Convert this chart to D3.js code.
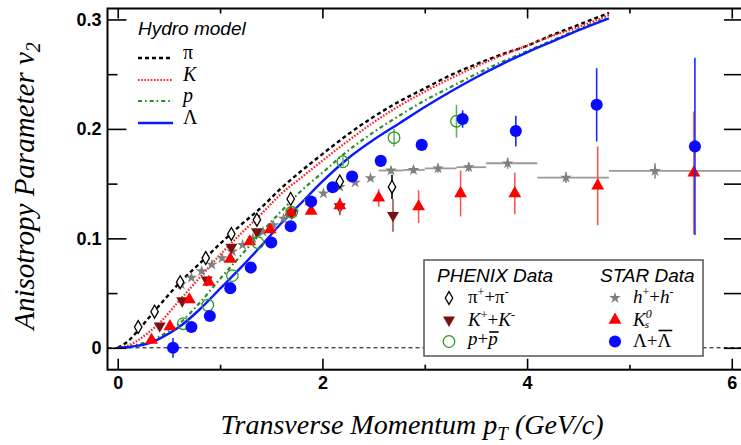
<!DOCTYPE html>
<html><head><meta charset="utf-8">
<script src="https://cdn.jsdelivr.net/npm/d3@7"></script>
<style>body{margin:0;background:#fff}svg{display:block}</style>
</head><body>
<svg id="c" width="741" height="445"></svg>
<script>
// ---------- data ----------
const hydroPt   = [0,0.1,0.2,0.3,0.4,0.6,0.8,1.0,1.2,1.4,1.6,1.8,2.0,2.25,2.5,2.75,3.0,3.25,3.5,3.75,4.0,4.25,4.5,4.8];
const hydroPion = [0,0.006,0.016,0.027,0.038,0.059,0.077,0.095,0.112,0.128,0.146,0.162,0.177,0.195,0.211,0.225,0.237,0.249,0.259,0.268,0.276,0.286,0.295,0.306];
const hydroKaon = [0,0.002,0.007,0.014,0.022,0.043,0.064,0.085,0.104,0.122,0.141,0.156,0.171,0.189,0.206,0.221,0.234,0.246,0.257,0.267,0.276,0.285,0.293,0.304];
const hydroProton=[0,0.001,0.003,0.006,0.010,0.022,0.041,0.063,0.084,0.105,0.125,0.144,0.160,0.180,0.197,0.212,0.226,0.238,0.250,0.261,0.271,0.281,0.291,0.302];
const hydroLambda=[0,0.0005,0.002,0.004,0.008,0.019,0.035,0.054,0.073,0.093,0.114,0.133,0.152,0.173,0.190,0.205,0.220,0.234,0.247,0.259,0.270,0.280,0.290,0.301];

const pionPt  = [0.20,0.36,0.61,0.86,1.11,1.36,1.69,2.17,2.68];
const pionV2  = [0.019,0.033,0.060,0.082,0.104,0.117,0.136,0.152,0.147];
const pionErr = [0,0,0,0,0,0,0,0.003,0.011];

const kaonPt  = [0.41,0.63,0.87,1.11,1.36,1.70,2.17,2.69];
const kaonV2  = [0.020,0.043,0.062,0.092,0.106,0.123,0.129,0.121];
const kaonErr = [0,0,0,0,0,0,0.008,0.015];

const protonPt  = [0.64,0.88,1.12,1.37,1.70,2.20,2.70,3.31];
const protonV2  = [0.022,0.039,0.066,0.096,0.124,0.170,0.192,0.207];
const protonErr = [0,0,0,0,0,0.004,0.008,0.015];

const hPt  = [0.62,0.72,0.82,0.92,1.02,1.12,1.22,1.32,1.42,1.52,1.62,1.72,1.86,2.01,2.17,2.32,2.47,2.67,2.89,3.13,3.43,3.81,4.38,5.25];
const hV2  = [0.058,0.064,0.070,0.076,0.082,0.088,0.094,0.100,0.106,0.112,0.118,0.124,0.134,0.141,0.147,0.151,0.155,0.162,0.1625,0.164,0.165,0.1686,0.1555,0.1616];
const hErr = [0,0,0,0,0,0,0,0,0,0,0,0,0,0,0,0,0,0.003,0.003,0.004,0.004,0.005,0.005,0.007];
const hLo  = [null,null,null,null,null,null,null,null,null,null,null,null,null,null,null,null,null,2.55,2.79,3.0,3.31,3.6,4.1,4.8];
const hHi  = [null,null,null,null,null,null,null,null,null,null,null,null,null,null,null,null,null,2.79,3.0,3.31,3.6,4.1,4.8,6.1];

const k0sPt  = [0.33,0.51,0.70,0.89,1.10,1.29,1.49,1.69,1.89,2.17,2.55,2.94,3.35,3.88,4.69,5.63];
const k0sV2  = [0.007,0.0195,0.044,0.060,0.081,0.097,0.108,0.124,0.125,0.130,0.137,0.129,0.141,0.141,0.148,0.160];
const k0sErr = [0,0,0,0,0,0,0,0,0.003,0.006,0.008,0.015,0.021,0.019,0.036,0.056];

const lambdaPt  = [0.54,0.72,0.90,1.10,1.30,1.50,1.69,1.89,2.10,2.29,2.57,2.97,3.37,3.89,4.68,5.64];
const lambdaV2  = [0.000,0.019,0.029,0.0545,0.0733,0.0962,0.111,0.1336,0.1467,0.1565,0.1708,0.1854,0.209,0.198,0.222,0.184];
const lambdaErr = [0.009,0,0,0,0,0,0,0,0,0,0,0.004,0.008,0.014,0.0335,0.081];

const xMajor = [0,2,4,6], xMinor = [1,3,5];
const yMajor = [0,0.1,0.2,0.3], yMinor = [0.05,0.15,0.25];

// ---------- drawing ----------
const svg = d3.select("#c");
const L = 107.5, R = 742, T = 8.5, B = 369.7;
const x = d3.scaleLinear().domain([-0.1, 6.1]).range([L, R]);
const y = d3.scaleLinear().domain([-0.02, 0.31]).range([B, T]);
const sans = "'Liberation Sans', Arial, Helvetica, sans-serif";
const serif = "'Liberation Serif', 'Times New Roman', serif";

// zero line
svg.append("line").attr("x1", L).attr("x2", R).attr("y1", y(0)).attr("y2", y(0))
  .attr("stroke", "#000").attr("stroke-width", 1).attr("stroke-dasharray", "4,3");

// hydro curves
const curves = [
  {v: hydroPion,   color: "#000",    w: 2.4, dash: "4,3"},
  {v: hydroKaon,   color: "#ff2020", w: 2.2, dash: "1.6,1.6"},
  {v: hydroProton, color: "#2a8a2a", w: 2.2, dash: "4,3,1.6,3"},
  {v: hydroLambda, color: "#0a1aff", w: 2.4, dash: null}
];
const line = d3.line().x(d => x(d[0])).y(d => y(d[1])).curve(d3.curveMonotoneX);
curves.forEach(c => {
  svg.append("path").attr("d", line(hydroPt.map((p,i) => [p, c.v[i]])))
    .attr("fill", "none").attr("stroke", c.color).attr("stroke-width", c.w)
    .attr("stroke-dasharray", c.dash);
});

// marker helpers
function sym(type, size) { return d3.symbol().type(type).size(size)(); }
function series(pt, v2, err, opt) {
  const g = svg.append("g");
  pt.forEach((p, i) => {
    if (opt.lo && opt.lo[i] != null) {
      g.append("line").attr("x1", x(opt.lo[i])).attr("x2", x(opt.hi[i]))
        .attr("y1", y(v2[i])).attr("y2", y(v2[i]))
        .attr("stroke", opt.hcol).attr("stroke-width", 1.8);
    }
    if (err[i] > 0) {
      g.append("line").attr("x1", x(p)).attr("x2", x(p))
        .attr("y1", y(v2[i] - err[i])).attr("y2", y(v2[i] + err[i]))
        .attr("stroke", opt.ecol).attr("stroke-width", 1.6);
    }
  });
  pt.forEach((p, i) => {
    g.append("path").attr("d", opt.path)
      .attr("transform", `translate(${x(p)},${y(v2[i])})${opt.rot ? " rotate(180)" : ""}`)
      .attr("fill", opt.fill).attr("stroke", opt.stroke).attr("stroke-width", opt.sw || 0);
  });
}
const P = {
  h:      {path: sym(d3.symbolStar, 42), fill: "#808080", stroke: "none", ecol: "#888", hcol: "#999"},
  pion:   {path: sym(d3.symbolDiamond, 48), fill: "#fff", stroke: "#000", sw: 1.3, ecol: "#000"},
  kaon:   {path: sym(d3.symbolTriangle, 62), rot: true, fill: "#7a1010", stroke: "none", ecol: "#a05555"},
  k0s:    {path: sym(d3.symbolTriangle, 72), fill: "#ff0000", stroke: "none", ecol: "#ff5555"},
  proton: {path: sym(d3.symbolCircle, 105), fill: "none", stroke: "#2a9a2a", sw: 1.3, ecol: "#66b066"},
  lambda: {path: sym(d3.symbolCircle, 115), fill: "#0a0aff", stroke: "none", ecol: "#1a2aff"}
};
series(hPt, hV2, hErr, Object.assign({lo: hLo, hi: hHi}, P.h));
series(pionPt, pionV2, pionErr, P.pion);
series(kaonPt, kaonV2, kaonErr, P.kaon);
series(k0sPt, k0sV2, k0sErr, P.k0s);
series(protonPt, protonV2, protonErr, P.proton);
series(lambdaPt, lambdaV2, lambdaErr, P.lambda);

// frame
svg.append("rect").attr("x", L).attr("y", T).attr("width", R - L).attr("height", B - T)
  .attr("fill", "none").attr("stroke", "#000").attr("stroke-width", 2);

// axes
function ax(axis, transform, labels) {
  const g = svg.append("g").attr("transform", transform).call(axis);
  g.select(".domain").remove();
  g.selectAll(".tick line").attr("stroke", "#000").attr("stroke-width", 1.6);
  if (!labels) g.selectAll(".tick text").remove();
  else g.selectAll(".tick text").attr("font-family", sans).attr("font-weight", "bold")
        .attr("font-size", 18).attr("fill", "#000");
  return g;
}
ax(d3.axisBottom(x).tickValues(xMajor).tickSizeInner(-11).tickSizeOuter(0).tickPadding(7).tickFormat(d3.format("d")), `translate(0,${B})`, true);
ax(d3.axisBottom(x).tickValues(xMinor).tickSizeInner(-5).tickSizeOuter(0), `translate(0,${B})`, false);
ax(d3.axisTop(x).tickValues(xMajor).tickSizeInner(-10).tickSizeOuter(0), `translate(0,${T})`, false);
ax(d3.axisTop(x).tickValues(xMinor).tickSizeInner(-5).tickSizeOuter(0), `translate(0,${T})`, false);
ax(d3.axisLeft(y).tickValues(yMajor).tickSizeInner(-19).tickSizeOuter(0).tickPadding(6).tickFormat(d => d === 0 ? "0" : d3.format(".1f")(d)), `translate(${L},0)`, true);
ax(d3.axisLeft(y).tickValues(yMinor).tickSizeInner(-10).tickSizeOuter(0), `translate(${L},0)`, false);
ax(d3.axisRight(y).tickValues(yMajor.concat(yMinor)).tickSizeInner(-18).tickSizeOuter(0), `translate(${R},0)`, false);

// axis titles
const xt = svg.append("text").attr("x", 412).attr("y", 434).attr("text-anchor", "middle")
  .attr("font-family", serif).attr("font-style", "italic").attr("font-size", 28).attr("fill", "#000");
xt.append("tspan").text("Transverse Momentum p");
xt.append("tspan").attr("font-size", 19).attr("dy", 6).text("T");
xt.append("tspan").attr("dy", -6).text(" (GeV/c)");

const yt = svg.append("text").attr("transform", "translate(34,186) rotate(-90)").attr("text-anchor", "middle")
  .attr("font-family", serif).attr("font-style", "italic").attr("font-size", 29).attr("fill", "#000");
yt.append("tspan").text("Anisotropy Parameter v");
yt.append("tspan").attr("font-size", 20).attr("dy", 6).text("2");

// ---------- hydro legend ----------
svg.append("text").attr("x", 138).attr("y", 35).attr("font-family", sans).attr("font-style", "italic")
  .attr("font-size", 19).attr("fill", "#000").text("Hydro model");
const hl = [
  {c: curves[0], y: 58, t: "π", it: false},
  {c: curves[1], y: 80, t: "K", it: true},
  {c: curves[2], y: 101, t: "p", it: true},
  {c: curves[3], y: 123, t: "Λ", it: false}
];
hl.forEach(d => {
  svg.append("line").attr("x1", 138).attr("x2", 173).attr("y1", d.y).attr("y2", d.y)
    .attr("stroke", d.c.color).attr("stroke-width", d.c.w).attr("stroke-dasharray", d.c.dash);
  svg.append("text").attr("x", 183).attr("y", d.y + 1).attr("font-family", serif)
    .attr("font-style", d.it ? "italic" : "normal").attr("font-size", 20).attr("fill", "#000").text(d.t);
});

// ---------- data legend ----------
svg.append("rect").attr("x", 424).attr("y", 260).attr("width", 279).attr("height", 96)
  .attr("fill", "#fff").attr("stroke", "#555").attr("stroke-width", 1.5);
svg.append("text").attr("x", 437).attr("y", 281.5).attr("font-family", sans).attr("font-style", "italic")
  .attr("font-size", 19).attr("fill", "#000").text("PHENIX Data");
svg.append("text").attr("x", 600).attr("y", 281.5).attr("font-family", sans).attr("font-style", "italic")
  .attr("font-size", 19).attr("fill", "#000").text("STAR Data");

function rich(x0, y0, parts) {
  let cx = x0;
  parts.forEach(p => {
    const t = svg.append("text").attr("x", cx).attr("y", y0 + (p.dy || 0))
      .attr("font-family", serif).attr("font-style", p.i ? "italic" : "normal")
      .attr("font-size", p.s || 19).attr("fill", "#000").text(p.t);
    const w = t.node().getComputedTextLength();
    if (p.over) {
      svg.append("line").attr("x1", cx + 1).attr("x2", cx + w + 1).attr("y1", p.over).attr("y2", p.over)
        .attr("stroke", "#000").attr("stroke-width", 1.6);
    }
    cx += w;
  });
}
const rows = [298, 320, 341.5];
const legMarks = [
  {m: P.pion, x: 449, y: rows[0]}, {m: P.kaon, x: 449, y: rows[1]}, {m: P.proton, x: 449, y: rows[2]},
  {m: P.h, x: 615, y: rows[0]}, {m: P.k0s, x: 615, y: rows[1]}, {m: P.lambda, x: 615, y: rows[2]}
];
legMarks.forEach(d => {
  svg.append("path").attr("d", d.m.path)
    .attr("transform", `translate(${d.x},${d.y})${d.m.rot ? " rotate(180)" : ""}`)
    .attr("fill", d.m.fill).attr("stroke", d.m.stroke).attr("stroke-width", d.m.sw || 0);
});
rich(468, 303, [{t: "π"}, {t: "+", s: 12, dy: -7}, {t: "+"}, {t: "π"}, {t: "-", s: 12, dy: -7}]);
rich(468, 325.5, [{t: "K", i: true}, {t: "+", s: 12, dy: -7}, {t: "+"}, {t: "K", i: true}, {t: "-", s: 12, dy: -7}]);
rich(468, 345, [{t: "p", i: true}, {t: "+"}, {t: "p", i: true, over: 332}]);
rich(633, 303, [{t: "h", i: true}, {t: "+", s: 12, dy: -7}, {t: "+"}, {t: "h", i: true}, {t: "-", s: 12, dy: -7}]);
// K0s as a single text element with stacked super/subscript
const ks = svg.append("text").attr("x", 633).attr("y", 325.5).attr("font-family", serif)
  .attr("font-style", "italic").attr("font-size", 19).attr("fill", "#000");
ks.append("tspan").text("K");
const kw = ks.node().getComputedTextLength();
ks.append("tspan").attr("font-size", 12).attr("dy", -8).text("0");
ks.append("tspan").attr("font-size", 11).attr("x", 633 + kw - 1).attr("dy", 10).text("s");
rich(633, 347, [{t: "Λ"}, {t: "+"}, {t: "Λ", over: 330.5}]);
</script>
</body></html>
